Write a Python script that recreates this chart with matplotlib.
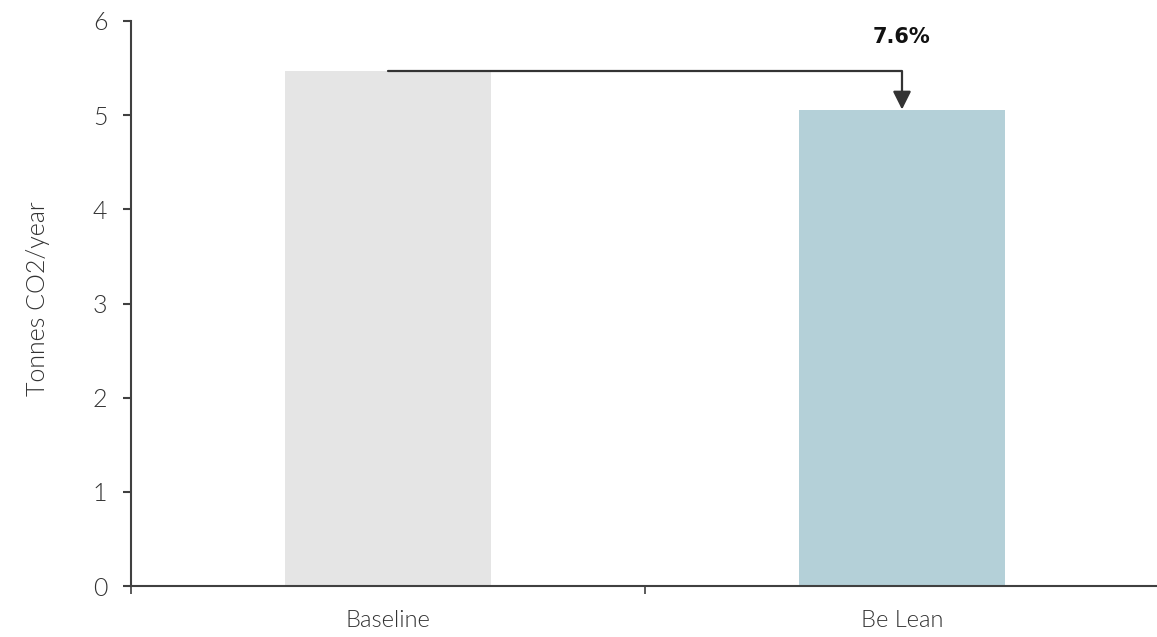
import matplotlib
matplotlib.use("Agg")
import matplotlib.pyplot as plt
from matplotlib.ticker import FixedLocator

categories = ["Baseline", "Be Lean"]
values = [5.47, 5.06]
bar_colors = ["#e5e5e5", "#b4d0d8"]
reduction_label = "7.6%"
y_ticks = [0, 1, 2, 3, 4, 5, 6]
y_label = "Tonnes CO2/year"

W, H = 1157, 637
fig = plt.figure(figsize=(W / 100, H / 100), dpi=100)
left, right, top, bottom = 131, 1159, 21, 586
ax = fig.add_axes([left / W, (H - bottom) / H, (right - left) / W, (bottom - top) / H])

x = list(range(len(categories)))
ax.bar(x, values, width=0.40, color=bar_colors, zorder=2)

ax.set_xlim(-0.5, len(categories) - 0.5)
ax.set_ylim(0, 6)

axis_color = "#404040"
for side in ("top", "right"):
    ax.spines[side].set_visible(False)
for side in ("left", "bottom"):
    ax.spines[side].set_color(axis_color)
    ax.spines[side].set_linewidth(1.5)

label_font = dict(family=["Lato", "DejaVu Sans"], weight=300, color="#333333")

ax.set_yticks(y_ticks)
ax.set_yticklabels([str(t) for t in y_ticks], fontdict=dict(size=18, **label_font))
ax.tick_params(axis="y", length=6, width=1.5, color=axis_color, pad=11)

ax.set_xticks(x)
ax.set_xticklabels(categories, fontdict=dict(size=17, **label_font))
ax.tick_params(axis="x", which="major", length=0, pad=17)
ax.xaxis.set_minor_locator(FixedLocator([-0.5, 0.5]))
ax.tick_params(axis="x", which="minor", length=6, width=1.2, color=axis_color)

ax.set_ylabel(y_label, fontdict=dict(size=18, **label_font))
ax.yaxis.set_label_coords(-81 / (right - left), 0.509)

# reduction connector from the baseline bar top to the second bar top
ax.annotate("", xy=(1, values[1]), xytext=(0, values[0]),
            arrowprops=dict(arrowstyle="-|>,head_length=1.1,head_width=0.55",
                            connectionstyle="angle,angleA=0,angleB=90,rad=0",
                            color="#333333", lw=1.6, shrinkA=0, shrinkB=0,
                            mutation_scale=10), zorder=3)
ax.text(1, 5.83, reduction_label, ha="center", va="center", fontsize=15,
        fontweight="bold", family="DejaVu Sans", color="#111111")

fig.savefig("out.png", dpi=100)
